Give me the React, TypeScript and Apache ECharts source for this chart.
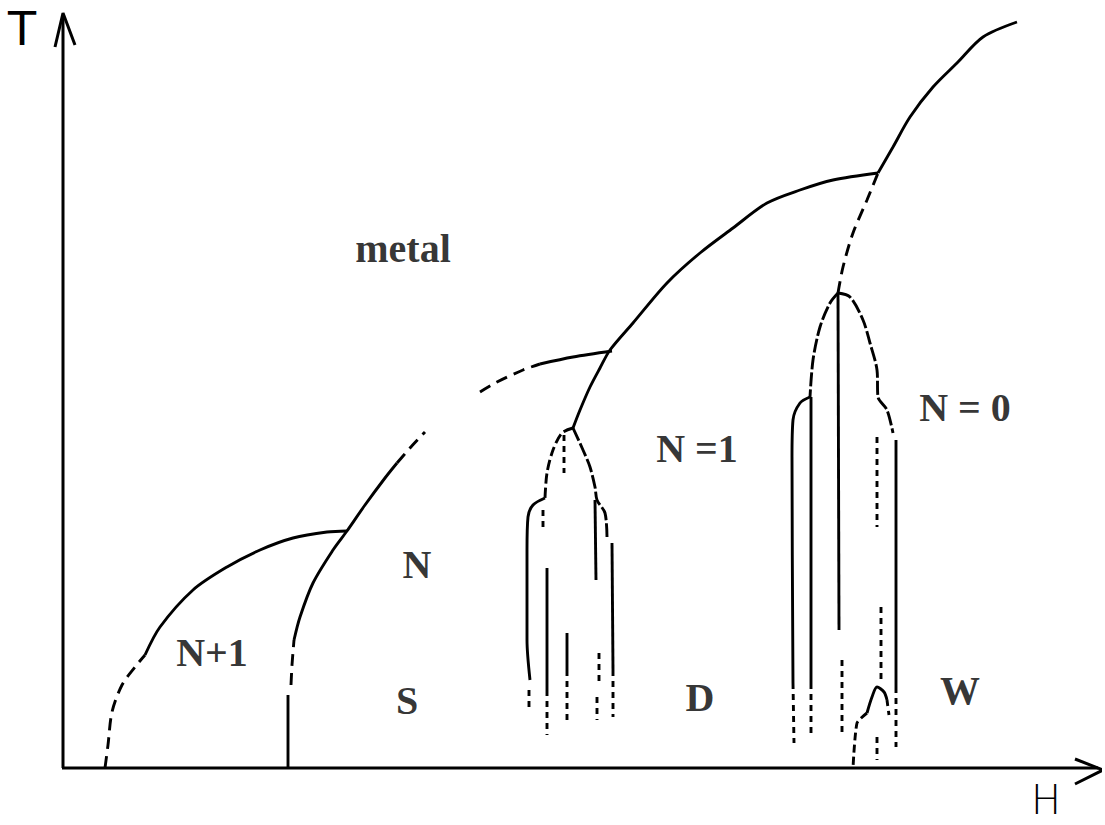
import React, { useEffect, useRef } from "react";
import * as echarts from "echarts";

// Coordinates: H (field) and T (temperature) in arbitrary diagram units.
// Outer N+1 dome
const domeN1Dashed = [[4.0, 0], [4.3, 2.3], [4.7, 5.6], [5.7, 8.3], [7.0, 10.1], [8.0, 11.3]];
const domeN1Solid = [[8.0, 11.3], [9.5, 14.1], [12.8, 17.8], [16.2, 20.1], [19.5, 21.8], [22.8, 23.0], [26.2, 23.6], [28.2, 23.7]];
// S boundary (N / N+1)
const sVertical = [[22.3, 0], [22.3, 7.3]];
const sLowDashed = [[22.6, 8.3], [22.7, 10.3], [22.9, 12.8]];
const sSolid = [[22.9, 12.8], [23.5, 15.1], [24.8, 18.5], [26.8, 21.8], [28.2, 23.7], [30.0, 26.3], [32.0, 29.0], [33.2, 30.5]];
const sTopDashed = [[33.2, 30.5], [34.5, 32.0], [36.0, 33.6]];
// metal / N boundary
const metalDashed = [[41.5, 37.6], [43.2, 38.6], [45.8, 39.8], [47.5, 40.4]];
const metalSolid = [[47.5, 40.4], [50.8, 41.1], [54.7, 41.7]];
// N = 1 boundary
const n1Curve = [[50.8, 34.0], [51.5, 35.8], [52.5, 38.1], [53.5, 40.0], [54.5, 41.8], [56.8, 44.5], [60.2, 48.5], [63.5, 51.5], [66.8, 54.0], [70.2, 56.5], [73.5, 57.8], [76.8, 58.8], [81.3, 59.5]];
// N = 0 boundary
const n0Dashed = [[77.3, 47.5], [77.8, 50.1], [78.8, 53.5], [80.2, 56.8], [81.3, 59.5]];
const n0Solid = [[81.3, 59.5], [82.8, 62.1], [84.5, 65.1], [86.8, 68.1], [89.2, 70.5], [91.8, 73.1], [95.2, 74.6]];
// D structure (left)
const dLeftTop = [[50.8, 34.0], [49.7, 33.5], [48.8, 31.8], [48.2, 29.5], [48.0, 27.0]];
const dLeftOuter = [[48.0, 27.0], [46.8, 26.3], [46.3, 25.1], [46.2, 21.8], [46.2, 12.8], [46.5, 8.8]];
const dLeftOuterTail = [[46.4, 7.8], [46.4, 6.1]];
const dInnerLeftTop = [[47.8, 25.8], [47.8, 23.6]];
const dInnerLeft = [[48.2, 20.0], [48.2, 7.8]];
const dInnerLeftTail = [[48.2, 7.8], [48.2, 3.3]];
const dCenterTop = [[49.9, 33.3], [49.9, 29.5]];
const dCenter = [[50.2, 13.5], [50.2, 9.8]];
const dCenterTail = [[50.2, 9.8], [50.2, 4.3]];
const dRightTop = [[50.8, 34.0], [51.8, 31.8], [52.5, 30.1], [53.0, 28.1], [53.2, 26.8], [54.0, 25.5], [54.2, 23.1]];
const dRightOuter = [[54.7, 22.5], [54.8, 9.8]];
const dRightOuterTail = [[54.8, 9.8], [54.8, 5.1]];
const dInnerRight = [[53.0, 26.8], [53.1, 18.8]];
const dInnerRightTail1 = [[53.4, 11.5], [53.4, 8.5]];
const dInnerRightTail2 = [[53.2, 7.1], [53.2, 4.8]];
// N = 0 structure (right)
const wLeftTop = [[77.3, 47.5], [76.5, 46.5], [75.5, 44.1], [74.8, 40.8], [74.5, 37.1]];
const wLeftOuter = [[74.5, 37.1], [73.5, 36.5], [72.8, 34.8], [72.7, 31.1], [72.8, 8.5]];
const wLeftOuterTail = [[72.8, 8.5], [72.9, 2.5]];
const wInnerLeft = [[74.6, 37.1], [74.6, 8.5]];
const wInnerLeftTail = [[74.6, 8.5], [74.6, 3.1]];
const wCenter = [[77.3, 47.5], [77.4, 13.8]];
const wCenterTail = [[77.7, 10.8], [77.7, 3.1]];
const wRightTop = [[77.3, 47.5], [78.5, 47.1], [79.8, 44.8], [80.5, 42.5], [81.2, 39.8], [81.3, 37.1], [82.2, 35.8], [82.8, 33.5]];
const wRightOuter = [[83.1, 32.8], [83.1, 8.1]];
const wRightOuterTail = [[83.1, 8.1], [83.1, 2.1]];
const wInnerRightTop = [[81.2, 33.1], [81.2, 24.1]];
const wInnerRightMid = [[81.6, 16.1], [81.6, 8.5]];
const wSmallDome = [[80.2, 5.5], [80.7, 7.1], [81.2, 8.1], [81.9, 7.6], [82.2, 6.8]];
const wSmallDomeRight = [[82.2, 6.8], [82.4, 5.3]];
const wSmallDomeLeft = [[80.2, 5.5], [79.2, 4.5], [78.8, 0]];
const wDots = [[81.2, 3.1], [81.2, 0.8]];
// axes and arrows
const hAxisLine = [[-0.3, 0], [103.3, 0]];
const tAxisLine = [[-0.2, 0], [-0.2, 75.3]];
const xArrow = [[101.0, 0.9], [103.8, -0.2], [101.0, -1.6]];
const yArrow = [[-1.0, 72.1], [-0.2, 75.5], [1.0, 72.3]];
// region labels
const regionLabels = [
  { name: "metal", value: [33.8, 52.0] },
  { name: "N =1", value: [63.2, 32.0] },
  { name: "N = 0", value: [90.0, 36.1] },
  { name: "N", value: [35.2, 20.4] },
  { name: "N+1", value: [14.7, 11.6] },
  { name: "S", value: [34.2, 6.8] },
  { name: "D", value: [63.5, 7.1] },
  { name: "W", value: [89.5, 7.8] },
];

const SOLID = "solid";
const DASH = [12, 7];
const FINE = [6, 5];

function line(data: number[][], type: any, smooth = 0.3, width = 2.9) {
  return {
    type: "line",
    data,
    smooth,
    showSymbol: false,
    symbol: "none",
    clip: false,
    silent: true,
    lineStyle: { color: "#000", width, type },
  };
}

export default function App() {
  const ref = useRef<HTMLDivElement>(null);
  useEffect(() => {
    if (!ref.current) return;
    const chart = echarts.init(ref.current, undefined, { renderer: "svg" });
    const series: any[] = [
      line(hAxisLine, SOLID, 0, 3),
      line(tAxisLine, SOLID, 0, 3),
      line(xArrow, SOLID, 0, 3),
      line(yArrow, SOLID, 0, 3),
      line(domeN1Dashed, DASH),
      line(domeN1Solid, SOLID),
      line(sVertical, SOLID, 0),
      line(sLowDashed, DASH),
      line(sSolid, SOLID),
      line(sTopDashed, DASH),
      line(metalDashed, DASH),
      line(metalSolid, SOLID),
      line(n1Curve, SOLID),
      line(n0Dashed, DASH),
      line(n0Solid, SOLID),
      line(dLeftTop, [10, 4]),
      line(dLeftOuter, SOLID),
      line(dLeftOuterTail, FINE, 0),
      line(dInnerLeftTop, FINE, 0),
      line(dInnerLeft, SOLID, 0),
      line(dInnerLeftTail, FINE, 0),
      line(dCenterTop, FINE, 0),
      line(dCenter, SOLID, 0),
      line(dCenterTail, FINE, 0),
      line(dRightTop, [14, 3]),
      line(dRightOuter, SOLID, 0),
      line(dRightOuterTail, FINE, 0),
      line(dInnerRight, SOLID, 0),
      line(dInnerRightTail1, FINE, 0),
      line(dInnerRightTail2, FINE, 0),
      line(wLeftTop, [14, 3]),
      line(wLeftOuter, SOLID),
      line(wLeftOuterTail, FINE, 0),
      line(wInnerLeft, SOLID, 0),
      line(wInnerLeftTail, FINE, 0),
      line(wCenter, SOLID, 0),
      line(wCenterTail, FINE, 0),
      line(wRightTop, [14, 3]),
      line(wRightOuter, SOLID, 0),
      line(wRightOuterTail, FINE, 0),
      line(wInnerRightTop, FINE, 0),
      line(wInnerRightMid, FINE, 0),
      line(wSmallDome, SOLID),
      line(wSmallDomeRight, FINE, 0),
      line(wSmallDomeLeft, [8, 4], 0.2),
      line(wDots, FINE, 0),
      {
        type: "scatter",
        symbolSize: 0,
        silent: true,
        clip: false,
        data: regionLabels.map((d) => ({
          name: d.name,
          value: d.value,
          label: {
            show: true,
            position: "inside",
            formatter: d.name,
            color: "#000",
            fontFamily: "Liberation Serif",
            fontWeight: "bold",
            fontSize: 40,
          },
        })),
      },
    ];
    chart.setOption({
      animation: false,
      backgroundColor: "#fff",
      grid: { left: 53, top: 13, width: 1047, height: 755 },
      xAxis: {
        type: "value",
        min: -1.2,
        max: 103.5,
        axisLine: { show: false },
        axisTick: { show: false },
        axisLabel: { show: false },
        splitLine: { show: false },
      },
      yAxis: {
        type: "value",
        min: 0,
        max: 75.5,
        axisLine: { show: false },
        axisTick: { show: false },
        axisLabel: { show: false },
        splitLine: { show: false },
      },
      graphic: [
        { type: "text", left: 8, top: 6, style: { text: "T", fontFamily: "DejaVu Sans", fontSize: 46, fontWeight: "normal", fill: "#000" } },
        { type: "text", left: 1031, top: 780, style: { text: "H", fontFamily: "DejaVu Sans", fontSize: 40, fontWeight: "lighter", fill: "#000" } },
      ],
      series,
    });
    return () => chart.dispose();
  }, []);
  return <div ref={ref} style={{ position: "fixed", left: 0, top: 0, width: 1105, height: 825, background: "#fff" }} />;
}
